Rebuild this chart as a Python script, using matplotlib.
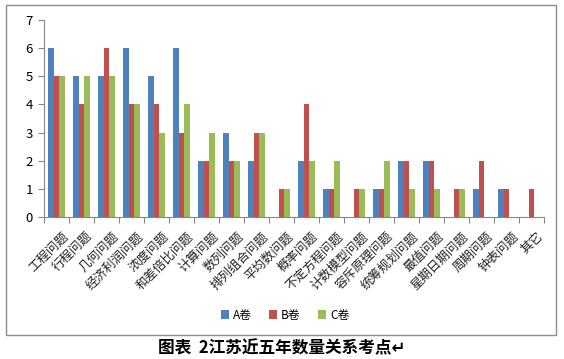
import numpy as np
import matplotlib
matplotlib.use('Agg')
from matplotlib import pyplot as plt
from matplotlib.patches import Rectangle

plt.rcParams['font.family'] = ['Noto Sans CJK SC', 'DejaVu Sans']

# 考点类别
categories = ['工程问题', '行程问题', '几何问题', '经济利润问题', '浓度问题', '和差倍比问题',
              '计算问题', '数列问题', '排列组合问题', '平均数问题', '概率问题', '不定方程问题',
              '计数模型问题', '容斥原理问题', '统筹规划问题', '最值问题', '星期日期问题',
              '周期问题', '钟表问题', '其它']
# 三套试卷题量
a_vals = [6, 5, 5, 6, 5, 6, 2, 3, 2, 0, 2, 1, 0, 1, 2, 2, 0, 1, 1, 0]
b_vals = [5, 4, 6, 4, 4, 3, 2, 2, 3, 1, 4, 1, 1, 1, 2, 2, 1, 2, 1, 1]
c_vals = [5, 5, 5, 4, 3, 4, 3, 2, 3, 1, 2, 2, 1, 2, 1, 1, 1, 0, 0, 0]
series_names = ['A卷', 'B卷', 'C卷']
colors = ['#4F81BD', '#C0504D', '#9BBB59']

fig = plt.figure(figsize=(5.64, 3.59), dpi=100)
fig.patch.set_facecolor('white')

# 图表外框
fig.patches.append(Rectangle((6 / 564, 24 / 359), 550 / 564, 330 / 359,
                             transform=fig.transFigure, fill=False,
                             edgecolor='#8c8c8c', linewidth=1.0))

ax = fig.add_axes([44 / 564, 142 / 359, 500 / 564, 197 / 359])
x = np.arange(len(categories))
w = 1 / 4.5
for i, (vals, name) in enumerate(zip([a_vals, b_vals, c_vals], series_names)):
    ax.bar(x + (i - 1) * w, vals, width=w, color=colors[i], label=name)

ax.set_xlim(-0.5, len(categories) - 0.5)
ax.set_ylim(0, 7)
ax.set_yticks(range(8))
ax.tick_params(axis='y', labelsize=9.5, length=4, color='#868686', pad=4)
ax.set_xticks(np.arange(len(categories) + 1) - 0.5)
ax.set_xticklabels([])
ax.tick_params(axis='x', length=4, color='#868686')
for xi, lab in zip(x, categories):
    ax.text(xi + 0.2, -0.45, lab, rotation=45, ha='right', va='top',
            rotation_mode='anchor', fontsize=9, color='#222222')

for s in ['top', 'right']:
    ax.spines[s].set_visible(False)
for s in ['left', 'bottom']:
    ax.spines[s].set_color('#868686')

leg = ax.legend(loc='center', bbox_to_anchor=(285 / 564, 44 / 359),
                bbox_transform=fig.transFigure, ncol=3, frameon=False,
                fontsize=8.5, handlelength=0.7, handleheight=0.7,
                handletextpad=0.3, columnspacing=1.5)

fig.text(282 / 564, 11 / 359, '图表  2江苏近五年数量关系考点↵', ha='center', va='center',
         fontsize=12, fontweight='bold', family=['Noto Sans CJK SC', 'DejaVu Sans'])

fig.savefig('out.png', dpi=100)
